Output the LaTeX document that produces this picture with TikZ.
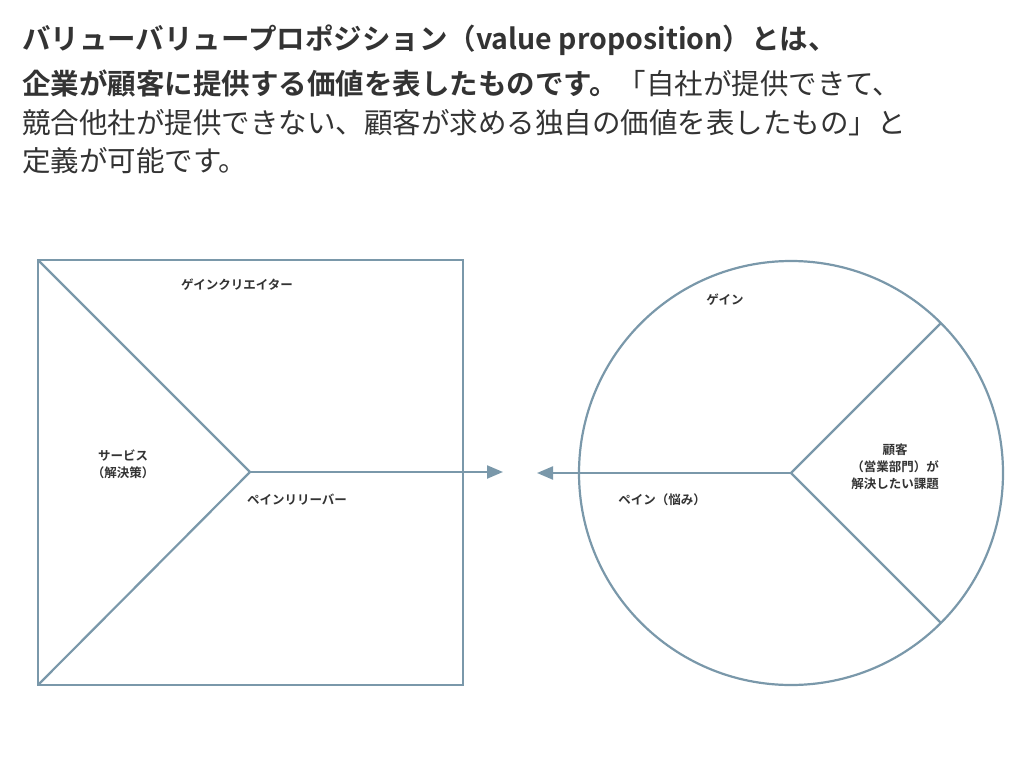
\documentclass[tikz,border=0pt]{standalone}
\usepackage{fontspec}
\setmainfont{Noto Sans CJK JP}
\newfontfamily\jpbold{Noto Sans CJK JP Bold}
\usetikzlibrary{arrows.meta}
\definecolor{linegray}{HTML}{7A98AA}
\definecolor{textgray}{HTML}{333333}
\tikzset{
  frame line/.style={draw=linegray,line width=2.2pt},
  part label/.style={font=\fontsize{12.5}{17}\selectfont\jpbold,text=textgray,align=center,inner sep=0pt},
  head line/.style={font=\fontsize{28.5}{34}\selectfont,text=textgray,anchor=west,inner sep=0pt},
  link/.style={frame line,-{Triangle[length=16pt,width=13pt]}}
}
\begin{document}
\begin{tikzpicture}[x=1pt,y=-1pt]
  \useasboundingbox (0,0) rectangle (1024,757);

  % heading
  \node[head line] (h1) at (22,40) {\jpbold バリューバリュープロポジション（value proposition）とは、};
  \node[head line] (h2) at (22,83) {{\jpbold 企業が顧客に提供する価値を表したものです。}「自社が提供できて、};
  \node[head line] (h3) at (22,123) {競合他社が提供できない、顧客が求める独自の価値を表したもの」と};
  \node[head line] (h4) at (22,161) {定義が可能です。};

  % value map
  \coordinate (sqtl) at (38,260);
  \coordinate (sqbl) at (38,685);
  \coordinate (sqc) at (250,472);
  \draw[frame line] (38,260) rectangle (463,685);
  \draw[frame line] (sqtl) -- (sqc) -- (sqbl);
  \coordinate (arrR) at (503,472);
  \draw[link] (sqc) -- (arrR);

  % customer profile
  \coordinate (cc) at (791,473);
  \coordinate (cup) at (941,323);
  \coordinate (cdn) at (941,623);
  \draw[frame line] (cc) circle[radius=212];
  \draw[frame line] (cup) -- (cc) -- (cdn);
  \coordinate (arrL) at (537,473);
  \draw[link] (cc) -- (arrL);

  % labels
  \node[part label] (gaincr) at (237,285) {ゲインクリエイター};
  \node[part label] (service) at (123,464) {サービス\\（解決策）};
  \node[part label] (painrel) at (297,500) {ペインリリーバー};
  \node[part label] (gain) at (725,300) {ゲイン};
  \node[part label] (job) at (895,467) {顧客\\（営業部門）が\\解決したい課題};
  \node[part label] (pain) at (662,500) {ペイン（悩み）};
\end{tikzpicture}
\end{document}
